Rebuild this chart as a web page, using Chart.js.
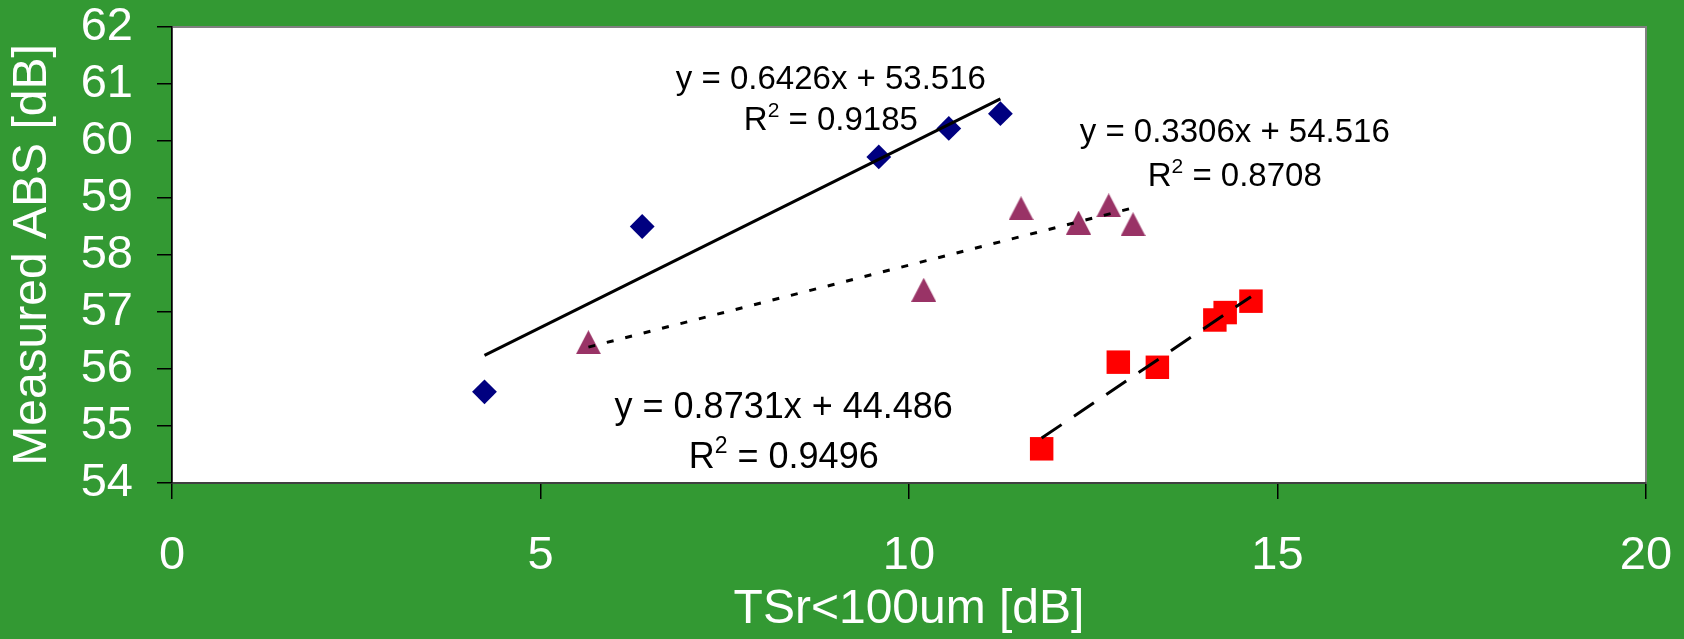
<!DOCTYPE html>
<html>
<head>
<meta charset="utf-8">
<script src="https://cdn.jsdelivr.net/npm/chart.js@4.4.0/dist/chart.umd.min.js"></script>
<style>
  html, body { margin: 0; padding: 0; background: #339933; }
  #wrap { width: 1684px; height: 639px; position: relative; }
</style>
</head>
<body>
<div id="wrap"><canvas id="absChart"></canvas></div>
<script>
// values
const diamondX = [4.24, 6.38, 9.59, 10.54, 11.24];
const diamondY = [55.60, 58.50, 59.72, 60.22, 60.48];

const triangleX = [5.65, 10.20, 11.52, 12.30, 12.71, 13.04];
const triangleY = [56.47, 57.39, 58.82, 58.57, 58.87, 58.54];

const squareX = [11.80, 12.84, 13.37, 14.15, 14.29, 14.64];
const squareY = [54.60, 56.12, 56.03, 56.86, 56.99, 57.19];

// linear trendlines (diamond, triangle, square)
const slopes = [0.6426, 0.3306, 0.8731];
const intercepts = [53.516, 54.516, 44.486];
const rSquared = [0.9185, 0.8708, 0.9496];

const xTicks = [0, 5, 10, 15, 20];
const yTicks = [54, 55, 56, 57, 58, 59, 60, 61, 62];

const FONT = '"Liberation Sans", Arial, sans-serif';

// where each equation box sits (data units), and its text size
const labelSpots = [
  { x: 8.94, yEq: 61.07, yR2: 60.35, size: 33 },
  { x: 14.42, yEq: 60.14, yR2: 59.37, size: 33 },
  { x: 8.30, yEq: 55.32, yR2: 54.44, size: 36 }
];

function toPoints(xs, ys) {
  return xs.map((v, i) => ({ x: v, y: ys[i] }));
}

function trendPoints(xs, i) {
  const lo = Math.min(...xs), hi = Math.max(...xs);
  return [lo, hi].map(v => ({ x: v, y: slopes[i] * v + intercepts[i] }));
}

// excel style triangle, centred on its bounding box
function triangleMarker(w, h, color) {
  const c = document.createElement('canvas');
  c.width = w; c.height = h;
  const g = c.getContext('2d');
  g.fillStyle = color;
  g.beginPath();
  g.moveTo(w / 2, 0);
  g.lineTo(w, h);
  g.lineTo(0, h);
  g.closePath();
  g.fill();
  return c;
}

// keep tick label overflow from pushing the plot area around
function noScalePadding(s) {
  s.paddingTop = 0;
  s.paddingBottom = 0;
  s.paddingLeft = 0;
  s.paddingRight = 0;
}

const plotBackground = {
  id: 'plotBackground',
  beforeDraw(chart) {
    const { ctx, chartArea: a } = chart;
    ctx.save();
    ctx.fillStyle = '#339933';
    ctx.fillRect(0, 0, chart.width, chart.height);
    ctx.fillStyle = '#ffffff';
    ctx.fillRect(a.left, a.top, a.right - a.left, a.bottom - a.top);
    ctx.strokeStyle = '#808080';
    ctx.lineWidth = 2;
    ctx.strokeRect(a.left, a.top, a.right - a.left, a.bottom - a.top);
    ctx.restore();
  }
};

const equationLabels = {
  id: 'equationLabels',
  afterDatasetsDraw(chart) {
    const { ctx, scales: { x, y } } = chart;
    ctx.save();
    ctx.fillStyle = '#000000';
    ctx.textBaseline = 'middle';
    labelSpots.forEach((spot, i) => {
      const big = spot.size + 'px ' + FONT;
      const small = Math.round(spot.size * 0.64) + 'px ' + FONT;
      const cx = x.getPixelForValue(spot.x);

      ctx.font = big;
      ctx.textAlign = 'center';
      const eq = 'y = ' + slopes[i].toFixed(4) + 'x + ' + intercepts[i].toFixed(3);
      ctx.fillText(eq, cx, y.getPixelForValue(spot.yEq));

      // R^2 line with a raised 2
      const rest = ' = ' + rSquared[i].toFixed(4);
      ctx.textAlign = 'left';
      const wR = ctx.measureText('R').width;
      const wRest = ctx.measureText(rest).width;
      ctx.font = small;
      const wSup = ctx.measureText('2').width;
      let px = cx - (wR + wSup + wRest) / 2;
      const py = y.getPixelForValue(spot.yR2);
      ctx.font = big;
      ctx.fillText('R', px, py);
      px += wR;
      ctx.font = small;
      ctx.fillText('2', px, py - spot.size * 0.3);
      px += wSup;
      ctx.font = big;
      ctx.fillText(rest, px, py);
    });
    ctx.restore();
  }
};

const ctx = document.getElementById('absChart').getContext('2d');
new Chart(ctx, {
  type: 'scatter',
  data: {
    datasets: [
      {
        label: 'trend 1', data: trendPoints(diamondX, 0), showLine: true,
        borderColor: '#000', borderWidth: 3, pointRadius: 0, order: 0
      },
      {
        label: 'trend 2', data: trendPoints(triangleX, 1), showLine: true,
        borderColor: '#000', borderWidth: 3, borderDash: [7, 12], pointRadius: 0, order: 0
      },
      {
        label: 'trend 3', data: trendPoints(squareX, 2), showLine: true,
        borderColor: '#000', borderWidth: 3, borderDash: [24, 15], pointRadius: 0, order: 0
      },
      {
        label: 'series 1', data: toPoints(diamondX, diamondY),
        pointStyle: 'rectRot', pointRadius: 12.4, pointBorderWidth: 0,
        backgroundColor: '#000080', borderColor: '#000080', order: 1
      },
      {
        label: 'series 2', data: toPoints(triangleX, triangleY),
        pointStyle: triangleMarker(25, 24, '#993366'), pointRadius: 12,
        backgroundColor: '#993366', borderColor: '#993366', order: 1
      },
      {
        label: 'series 3', data: toPoints(squareX, squareY),
        pointStyle: 'rect', pointRadius: 16.6, pointBorderWidth: 0,
        backgroundColor: '#ff0000', borderColor: '#ff0000', order: 1
      }
    ]
  },
  options: {
    responsive: true,
    maintainAspectRatio: false,
    animation: false,
    events: [],
    layout: { padding: { top: 27, right: 38, left: 0, bottom: 0 } },
    plugins: { legend: { display: false }, tooltip: { enabled: false } },
    scales: {
      x: {
        type: 'linear', position: 'bottom', min: 0, max: 20,
        afterBuildTicks: s => { s.ticks = xTicks.map(v => ({ value: v })); },
        afterFit: s => { s.height = 156; noScalePadding(s); },
        ticks: { color: '#fff', font: { size: 47, family: FONT }, padding: 29, autoSkip: false, maxRotation: 0 },
        grid: { drawOnChartArea: false, tickLength: 16, color: '#000', lineWidth: 1.5 },
        border: { color: '#404040', width: 2 },
        title: { display: true, text: 'TSr<100um [dB]', color: '#fff', font: { size: 48, family: FONT }, padding: 0 }
      },
      y: {
        type: 'linear', min: 54, max: 62,
        afterBuildTicks: s => { s.ticks = yTicks.map(v => ({ value: v })); },
        afterFit: s => { s.width = 172; noScalePadding(s); },
        ticks: { color: '#fff', font: { size: 47, family: FONT }, padding: 24, autoSkip: false },
        grid: { drawOnChartArea: false, tickLength: 15, color: '#000', lineWidth: 1.5 },
        border: { color: '#000', width: 1.5 },
        title: { display: true, text: 'Measured ABS [dB]', color: '#fff', font: { size: 48, family: FONT }, padding: { top: 4, bottom: 0 } }
      }
    }
  },
  plugins: [plotBackground, equationLabels]
});
</script>
</body>
</html>
